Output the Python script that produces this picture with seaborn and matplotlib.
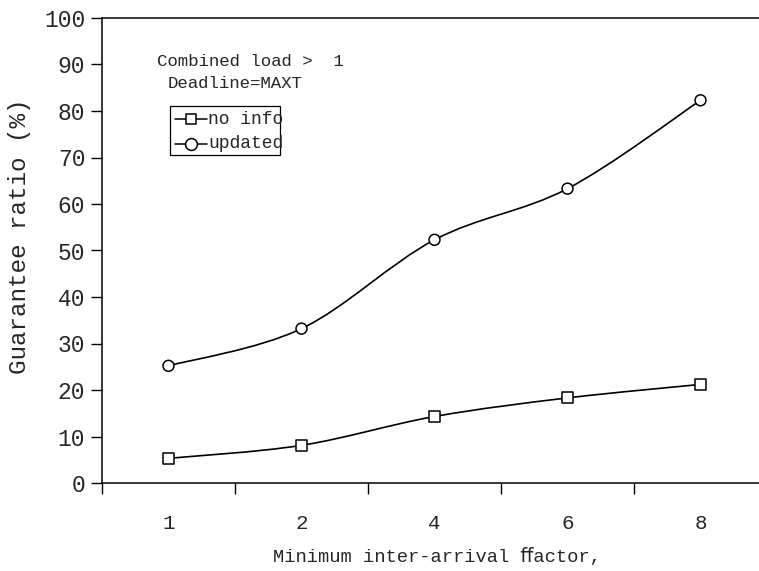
import numpy as np
import pandas as pd
import seaborn as sns
import matplotlib
matplotlib.use("Agg")
import matplotlib.pyplot as plt
from matplotlib.path import Path
from matplotlib.patches import PathPatch, Rectangle
from matplotlib.lines import Line2D

# ---- data -------------------------------------------------------------
factors = ["1", "2", "4", "6", "8"]
no_info = [5.3, 8.1, 14.3, 18.3, 21.2]
updated = [25.2, 33.2, 52.3, 63.3, 82.3]
series_names = ["no info", "updated"]
y_ticks = [0, 10, 20, 30, 40, 50, 60, 70, 80, 90, 100]

sns.set_theme(style="white")
FONT = ["Liberation Mono", "DejaVu Sans Mono", "DejaVu Sans"]
plt.rcParams["font.family"] = FONT

W, H = 759, 571
fig = plt.figure(figsize=(W / 100, H / 100), dpi=100)
ax = fig.add_axes([102 / W, (H - 483) / H, (W - 102) / W, 465 / H])

pos = np.arange(len(factors))
df = pd.DataFrame({
    "pos": np.concatenate([pos, pos]),
    "value": no_info + updated,
    "series": [series_names[0]] * len(pos) + [series_names[1]] * len(pos),
})


def smooth_path(xs, ys):
    """Catmull-Rom style cubic Bezier through the points."""
    pts = np.column_stack([xs, ys]).astype(float)
    ext = np.vstack([pts[0], pts, pts[-1]])
    verts = [tuple(pts[0])]
    codes = [Path.MOVETO]
    for i in range(len(pts) - 1):
        p0, p1, p2, p3 = ext[i], ext[i + 1], ext[i + 2], ext[i + 3]
        c1 = p1 + (p2 - p0) / 6.0
        c2 = p2 - (p3 - p1) / 6.0
        verts += [tuple(c1), tuple(c2), tuple(p2)]
        codes += [Path.CURVE4] * 3
    return Path(verts, codes)


for vals in (no_info, updated):
    ax.add_patch(PathPatch(smooth_path(pos, vals), facecolor="none",
                           edgecolor="black", lw=1.2, zorder=2))

sns.scatterplot(data=df, x="pos", y="value", style="series",
                markers={"no info": "s", "updated": "o"},
                color="white", edgecolor="black", linewidth=1.1,
                s=62, legend=False, ax=ax, zorder=3)

ax.set_xlim(-0.5, -0.5 + (W - 102) / 133.0)
ax.set_ylim(0, 100)
ax.set_yticks(y_ticks)
ax.set_yticklabels([str(v) for v in y_ticks])
ax.set_xticks(pos - 0.5, minor=False)
ax.set_xticklabels([])
ax.set_xticks(pos, minor=True)
ax.set_xticklabels(factors, minor=True)
ax.tick_params(axis="x", which="minor", length=0, pad=22, labelsize=15)
ax.tick_params(axis="x", which="major", direction="out", length=8,
               width=1, color="black", bottom=True)
ax.tick_params(axis="y", direction="out", length=8, width=1,
               color="black", left=True, labelsize=16.5, pad=4)

for side in ("left", "bottom", "top"):
    ax.spines[side].set_visible(True)
    ax.spines[side].set_color("black")
    ax.spines[side].set_linewidth(1.1)
ax.spines["right"].set_visible(False)

ax.set_xlabel("Minimum inter-arrival ﬀactor,", fontsize=13.5, family=FONT)
ax.xaxis.set_label_coords((437 - 102) / (W - 102), -(557 - 483) / 465)
ax.xaxis.label.set_verticalalignment("center")
ax.set_ylabel("Guarantee ratio (%)", fontsize=17.5)
ax.yaxis.set_label_coords(-(102 - 20) / (W - 102), 1 - (236 - 18) / 465)
ax.yaxis.label.set_verticalalignment("center")

# annotations
fig.text(157 / W, 1 - 62 / H, "Combined load >  1", fontsize=12.5,
         va="center", ha="left")
fig.text(168 / W, 1 - 84 / H, "Deadline=MAXT", fontsize=12.5,
         va="center", ha="left")

# hand-built legend box
fig.add_artist(Rectangle((170 / W, 1 - 155 / H), 110 / W, 49 / H,
                         transform=fig.transFigure, facecolor="none",
                         edgecolor="black", lw=0.9))
for row_y, mk, label in ((119, "s", series_names[0]),
                         (144, "o", series_names[1])):
    yy = 1 - row_y / H
    fig.add_artist(Line2D([175 / W, 207 / W], [yy, yy],
                          transform=fig.transFigure, color="black", lw=1.1))
    fig.add_artist(Line2D([191 / W], [yy], transform=fig.transFigure,
                          marker=mk, markersize=7 if mk == "s" else 8.5,
                          markerfacecolor="white", markeredgecolor="black",
                          markeredgewidth=1.1, linestyle="none"))
    fig.text(208 / W, yy, label, fontsize=13, va="center", ha="left")

fig.savefig("out.png", dpi=100, facecolor="white")
